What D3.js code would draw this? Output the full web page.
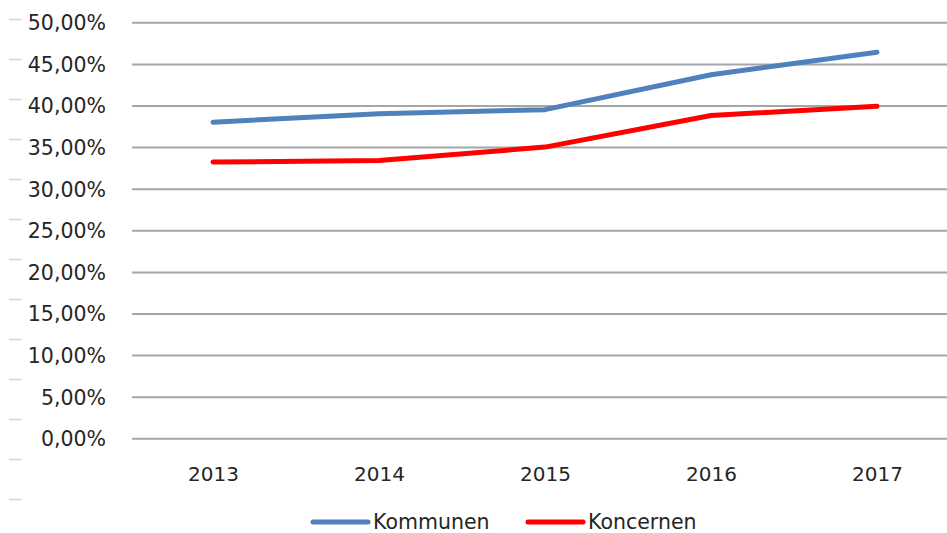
<!DOCTYPE html>
<html>
<head>
<meta charset="utf-8">
<script src="https://cdn.jsdelivr.net/npm/d3@7"></script>
<style>
  body { margin: 0; background: #fff; }
  text { font-family: "DejaVu Sans", sans-serif; fill: #262626; }
</style>
</head>
<body>
<script>
// data
var years = ["2013", "2014", "2015", "2016", "2017"];
var kommunen = [0.380, 0.390, 0.395, 0.437, 0.464];
var koncernen = [0.332, 0.334, 0.350, 0.388, 0.399];
var yTicks = [0, 0.05, 0.10, 0.15, 0.20, 0.25, 0.30, 0.35, 0.40, 0.45, 0.50];
var seriesNames = ["Kommunen", "Koncernen"];
var seriesColors = ["#4f81bd", "#ff0000"];

var width = 947, height = 533;

var svg = d3.select("body").append("svg")
  .attr("width", width)
  .attr("height", height);

// scales
var x = d3.scalePoint()
  .domain(years)
  .range([213, 877]);

var y = d3.scaleLinear()
  .domain([0, 0.5])
  .range([438.3, 22.3]);

var pct = function(v) { return d3.format(".2f")(v * 100).replace(".", ",") + "%"; };

// stray little dashes down the left edge
svg.selectAll(".dash")
  .data(d3.range(13))
  .enter()
  .append("line")
  .attr("x1", 9).attr("x2", 22)
  .attr("y1", function(d) { return 19.5 + d * 40; })
  .attr("y2", function(d) { return 19.5 + d * 40; })
  .style("stroke", "#d4d4d4")
  .style("stroke-width", 1.5);

// gridlines + y labels
var yAxis = d3.axisLeft(y)
  .tickValues(yTicks)
  .tickSize(-(width - 132))
  .tickPadding(26)
  .tickFormat(pct);

var gy = svg.append("g")
  .attr("transform", "translate(132,0)")
  .call(yAxis);
gy.select(".domain").remove();
gy.selectAll(".tick line")
  .style("stroke", "#a6a6a6")
  .style("stroke-width", 2);
gy.selectAll(".tick text")
  .style("font-size", "20.5px")
  .attr("x", -26)
  .attr("dy", "0.36em");

// x labels
var xAxis = d3.axisBottom(x).tickSize(0).tickPadding(0);
var gx = svg.append("g")
  .attr("transform", "translate(0,474)")
  .call(xAxis);
gx.select(".domain").remove();
gx.selectAll(".tick text")
  .style("font-size", "20px")
  .attr("y", 0)
  .attr("dy", "0.36em");

// lines
var line = d3.line()
  .x(function(d, i) { return x(years[i]); })
  .y(function(d) { return y(d); });

[kommunen, koncernen].forEach(function(vals, k) {
  svg.append("path")
    .datum(vals)
    .attr("d", line)
    .style("fill", "none")
    .style("stroke", seriesColors[k])
    .style("stroke-width", 5)
    .style("stroke-linecap", "round")
    .style("stroke-linejoin", "round");
});

// legend
var legendX = [313, 528];
seriesNames.forEach(function(name, k) {
  svg.append("line")
    .attr("x1", legendX[k]).attr("x2", legendX[k] + 55)
    .attr("y1", 522).attr("y2", 522)
    .style("stroke", seriesColors[k])
    .style("stroke-width", 5)
    .style("stroke-linecap", "round");
  svg.append("text")
    .attr("x", legendX[k] + 60)
    .attr("y", 528.5)
    .style("font-size", "20.5px")
    .text(name);
});
</script>
</body>
</html>
